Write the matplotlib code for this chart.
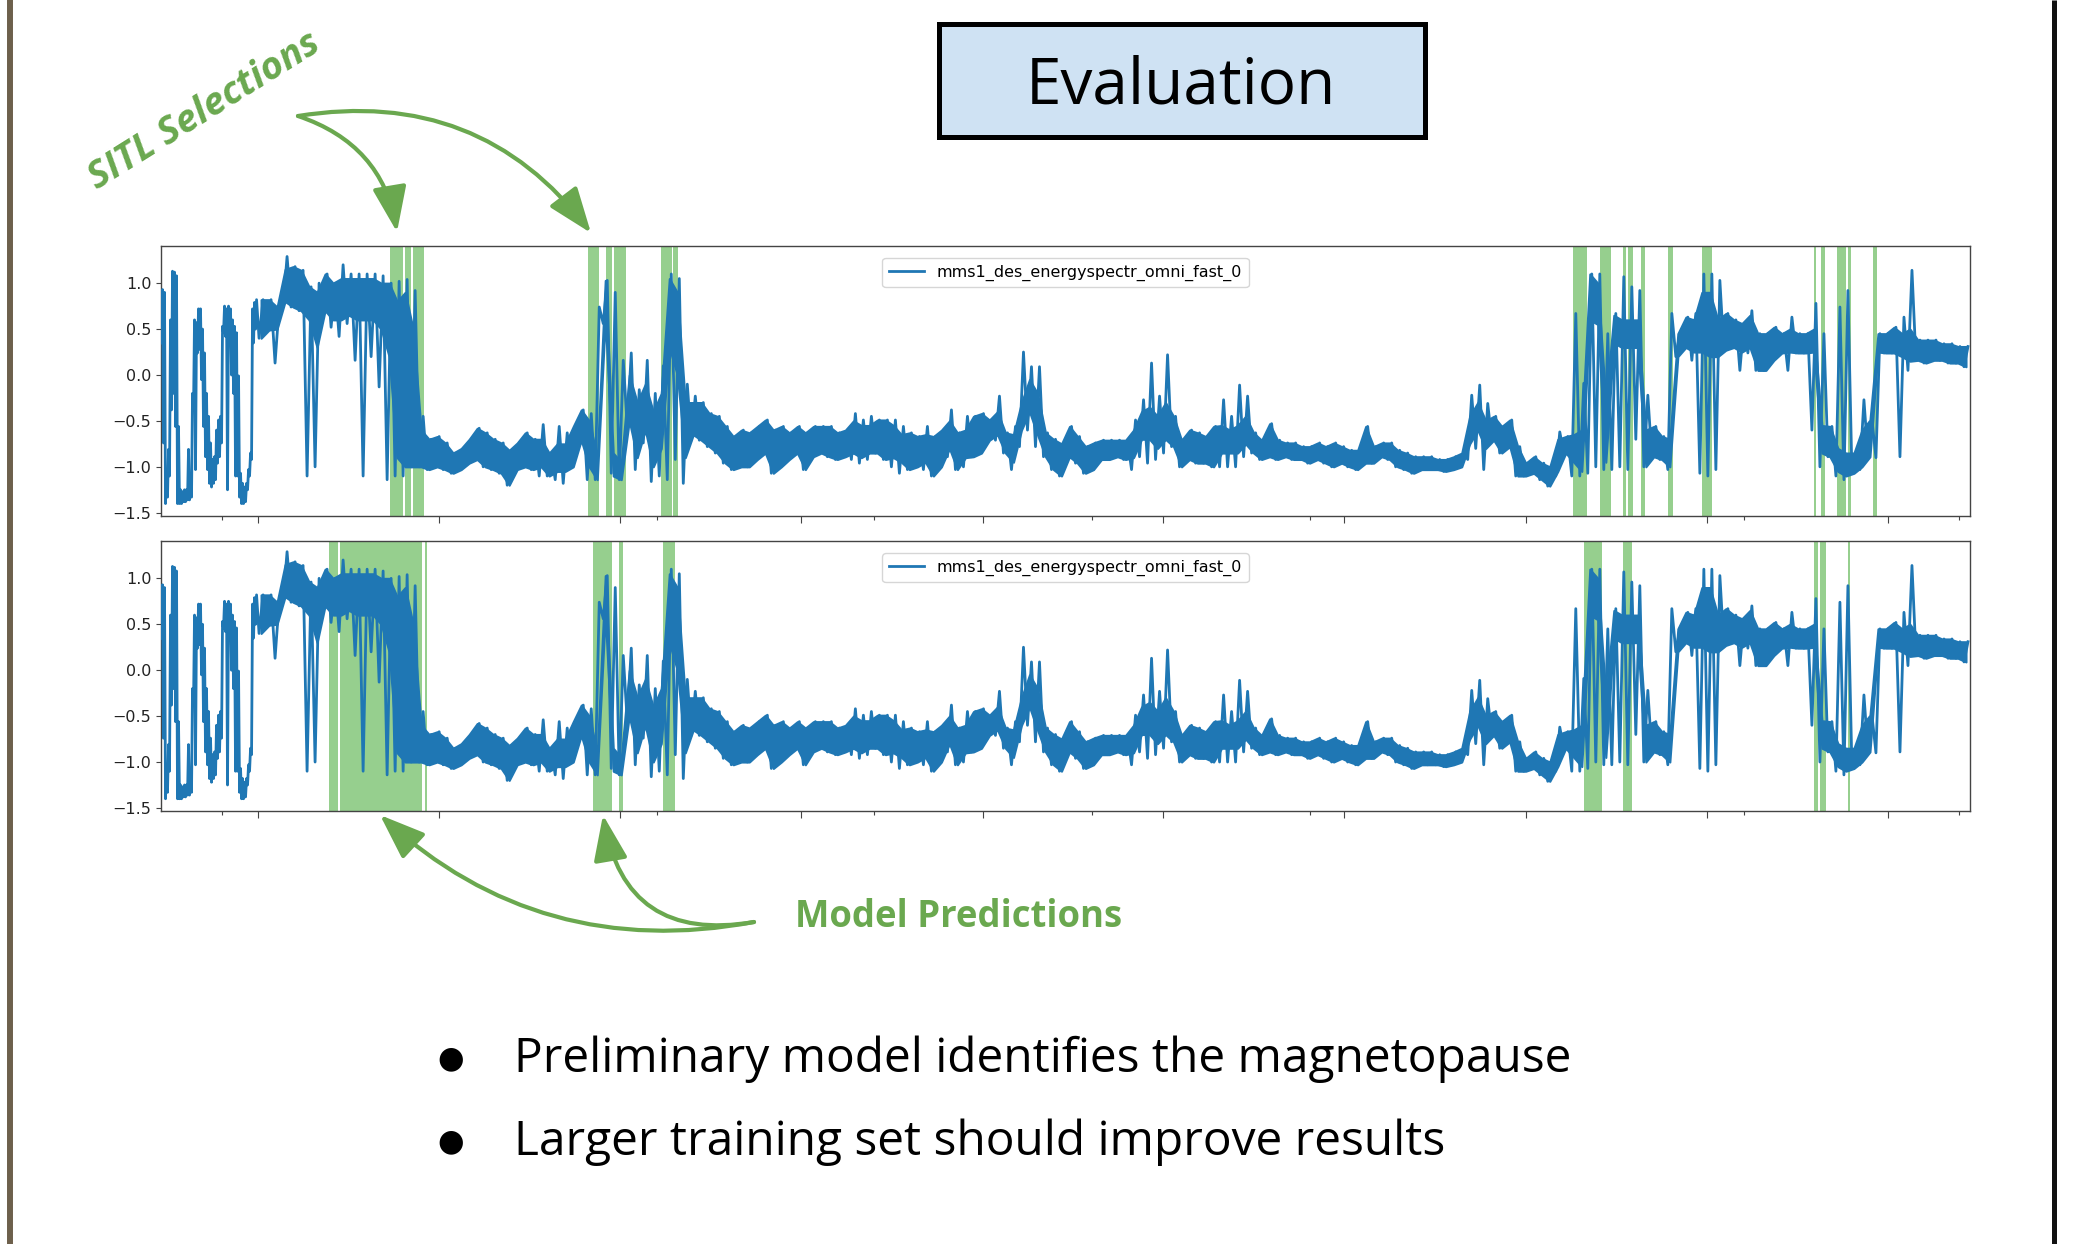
import numpy as np
import matplotlib
matplotlib.use("Agg")
import matplotlib.pyplot as plt
from matplotlib.patches import FancyArrowPatch, Rectangle, ArrowStyle

# first 96 samples: 2-sample bins (fast switching part)
fine_lo = [0.35, -0.74, -1.40, -1.33, -1.1, -0.38, -0.2, -0.56, -1.40, -1.40,
           -1.40, -1.38, -1.38, -1.36, -1.36, -1.33, -0.38, -1.03, 0.24, 0.28,
           -0.05, -0.56, -0.89, -1.03, -1.18, -1.22, -1.18, -1.14, -0.96, -0.89,
           -0.74, 0.46, 0.42, -1.25, 0.35, 0.0, -0.2, -1.1, -1.1, -1.33,
           -1.40, -1.40, -1.38, -1.25, -1.1, -0.92, 0.35, 0.5]
fine_hi = [0.93, 0.9, -1.03, -0.81, 0.6, 1.13, 1.12, 1.08, -0.56, -1.25,
           -1.27, -1.25, -1.25, -0.81, -1.1, -0.2, 0.6, 0.57, 0.72, 0.72,
           0.5, 0.24, -0.2, -0.45, -0.74, -0.92, -0.89, -0.6, -0.49, -0.45,
           0.53, 0.75, 0.72, 0.75, 0.72, 0.6, 0.53, 0.46, -0.01, -1.07,
           -1.18, -1.22, -1.18, -1.03, -0.85, 0.72, 0.79, 0.82]

# from sample 96 on: 8-sample bins (bin k starts at sample 8k, k = 12, 13, ...)
lo = [0.4, 0.49, 0.13, 0.74, 0.74, 0.7, -1.1, -1.0,
      0.7, 0.52, 0.42, 0.56, 0.16, -1.1, 0.2, -0.13, -1.14, -1.1,
      -1.1, -1.0, -1.0, -1.03, -1.0, -1.03, -1.07, -1.03, -0.96, -0.92,
      -1.0, -1.03, -1.07, -1.2, -1.03, -1.0, -1.03, -1.1, -1.1, -1.14,
      -1.18, -1.0, -0.71, -1.14, -1.14, 0.56, -1.07, -1.14, -0.56, -1.03,
      -0.74, -1.16, -1.1, -1.14, -0.92, -1.18, -0.71, -0.71, -0.78, -0.85,
      -0.96, -1.03, -1.0, -1.0, -0.92, -0.85, -1.07, -1.0, -0.92, -0.85,
      -1.03, -0.89, -0.85, -0.89, -0.92, -0.89, -0.92, -0.96, -0.92, -0.85,
      -0.92, -1.0, -1.07, -1.03, -1.0, -1.03, -1.1, -1.0, -0.89, -1.03,
      -1.0, -0.89, -0.85, -0.71, -0.71, -0.85, -1.03, -0.78, -0.6, -0.78,
      -0.89, -1.03, -1.1, -0.89, -0.96, -1.07, -1.03, -0.92, -0.92, -0.89,
      -0.92, -1.03, -0.89, -0.96, -0.92, -0.85, -0.78, -1.0, -0.92, -0.96,
      -0.96, -1.0, -1.0, -1.0, -1.0, -0.89, -0.85, -0.92, -0.89, -0.92,
      -0.89, -0.92, -0.92, -0.96, -0.92, -0.96, -1.0, -0.96, -1.0, -1.03,
      -0.96, -0.96, -0.89, -0.92, -1.0, -1.03, -1.07, -1.03, -1.03, -1.03,
      -1.05, -1.03, -1.0, -0.92, -0.8, -1.03, -0.71, -0.85, -0.78, -1.1,
      -1.1, -1.07, -1.14, -1.21, -1.1, -0.85, -1.1, -1.1, -1.07, -1.0,
      -1.03, -1.03, -1.0, -1.03, -0.7, -1.0, -0.89, -0.92, -1.03, 0.2,
      0.3, 0.16, -1.07, -1.1, -1.03, 0.27, 0.3, 0.05, 0.24, 0.05,
      0.05, 0.16, 0.24, 0.05, 0.24, 0.24, -0.6, -1.0, -0.89, -1.1,
      -1.14, -1.07, -1.03, -0.89, -0.9, 0.24, 0.24, -0.89, 0.05, 0.16,
      0.13, 0.16, 0.16, 0.13, 0.13, 0.09]
hi = [0.82, 0.82, 0.74, 1.29, 1.18, 1.14, 0.96, 1.0,
      1.1, 1.0, 1.2, 1.1, 1.1, 1.1, 1.1, 1.08, 1.0, 1.02,
      1.04, 0.92, -0.45, -0.7, -0.67, -0.74, -0.85, -0.8, -0.7, -0.58,
      -0.63, -0.7, -0.74, -0.82, -0.74, -0.63, -0.7, -0.54, -0.85, -0.56,
      -0.63, -0.56, -0.38, -0.42, 0.74, 1.03, 0.9, 0.16, 0.24, -0.16,
      0.16, -0.2, 0.1, 1.1, 1.05, -0.1, -0.23, -0.3, -0.42, -0.45,
      -0.56, -0.67, -0.6, -0.63, -0.56, -0.49, -0.6, -0.56, -0.63, -0.56,
      -0.63, -0.56, -0.56, -0.56, -0.63, -0.6, -0.42, -0.49, -0.45, -0.49,
      -0.49, -0.49, -0.56, -0.63, -0.67, -0.56, -0.67, -0.6, -0.38, -0.63,
      -0.45, -0.45, -0.42, -0.49, -0.23, -0.63, -0.56, 0.25, 0.09, 0.09,
      -0.63, -0.7, -0.75, -0.56, -0.67, -0.78, -0.74, -0.71, -0.71, -0.71,
      -0.71, -0.49, -0.27, 0.13, -0.23, 0.22, -0.45, -0.71, -0.6, -0.63,
      -0.67, -0.56, -0.27, -0.45, -0.11, -0.23, -0.63, -0.71, -0.53, -0.71,
      -0.74, -0.74, -0.78, -0.78, -0.74, -0.78, -0.74, -0.78, -0.82, -0.82,
      -0.56, -0.78, -0.74, -0.74, -0.82, -0.85, -0.89, -0.89, -0.89, -0.92,
      -0.92, -0.89, -0.85, -0.22, -0.11, -0.31, -0.45, -0.56, -0.49, -0.78,
      -0.96, -0.89, -0.96, -1.0, -0.62, -0.67, 0.67, -0.09, 1.1, 1.1,
      0.45, 0.67, 1.07, 0.96, 0.92, -0.22, -0.56, -0.67, 0.67, 0.45,
      0.63, 0.67, 1.1, 1.1, 1.03, 0.67, 0.6, 0.56, 0.7, 0.45,
      0.45, 0.52, 0.45, 0.63, 0.45, 0.45, 0.78, 0.45, -0.56, 0.74,
      0.92, -0.85, -0.27, -0.49, 0.45, 0.45, 0.52, 0.63, 1.14, 0.38,
      0.38, 0.38, 0.34, 0.34, 0.31, 0.31]

# 8-sample bins with spikes / jumps: the level band where the signal mostly sits
dwell_bins = [14, 15, 18, 19, 21, 22, 23,
              24, 25, 26, 27, 28, 29, 30, 31, 32, 47, 49, 50, 53, 54, 55, 56,
              57, 58, 59, 60, 61, 62, 63, 64, 65, 66, 86, 87, 88, 91, 92, 95,
              98, 100, 104, 106, 107, 108, 109, 121, 122, 123, 124, 125, 132,
              133, 134, 135, 163, 164, 165, 174, 176, 177, 178, 179, 180, 181,
              182, 183, 184, 185, 188, 191, 192, 193, 194, 197, 198, 203, 206,
              207, 209, 210, 212, 214, 217, 218]
dwell_lo = [0.5, 0.8, 0.6, 0.3, 0.6, 0.6, 0.65, 0.6, 0.6, 0.6, 0.5,
            0.2, -0.9, -1.0, -1.0, -1.0, -1.0, -1.05, -1.05, -1.0, -1.14,
            0.6, -1.1, -1.14, -0.5, -0.9, -0.6, -1.0, -0.8, 0.3, 0.0, -0.9,
            -0.65, -0.85, -0.9, -0.85, -0.9, -0.95, -0.95, -0.8, -0.9, -0.65,
            -0.95, -0.6, -0.4, -0.65, -0.9, -0.7, -0.7, -0.8, -0.7, -0.85,
            -0.85, -0.85, -0.75, -0.75, -0.6, -0.8, -1.05, -0.95, -1.05, 0.6,
            0.55, -0.95, 0.35, 0.3, 0.3, 0.3, -1.0, -1.0, 0.25, 0.25, 0.2,
            0.2, 0.25, 0.3, 0.25, 0.25, -0.85, -1.05, -1.1, -1.0, 0.25, 0.2,
            0.15]
dwell_hi = [0.74, 1.15, 0.96, 0.9, 1.0, 1.05, 1.05, 1.05, 1.05, 1.05,
            1.0, 1.0, 0.8, 0.9, 0.5, -0.6, -0.7, -0.75, -0.75, -0.5, -0.9,
            1.03, -0.85, -0.95, 0.0, -0.3, -0.1, -0.4, -0.2, 1.05, 0.9, -0.3,
            -0.3, -0.5, -0.55, -0.55, -0.55, -0.65, -0.65, -0.5, -0.6, -0.4,
            -0.65, -0.3, -0.05, -0.2, -0.6, -0.4, -0.35, -0.45, -0.3, -0.55,
            -0.6, -0.55, -0.45, -0.45, -0.3, -0.5, -0.7, -0.65, -0.6, 1.1,
            1.0, -0.3, 0.65, 0.6, 0.6, 0.6, -0.6, -0.7, 0.6, 0.9, 0.9, 0.6,
            0.56, 0.65, 0.5, 0.5, -0.55, -0.8, -0.85, -0.6, 0.45, 0.45, 0.5]
series_name = "mms1_des_energyspectr_omni_fast_0"

# selected intervals (sample index start, end)
sitl_spans = [(229, 242), (244, 250), (252, 263), (427, 438), (445, 451),
              (453, 465), (500, 511), (512, 517), (1411, 1425), (1438, 1449),
              (1461, 1464), (1466, 1471), (1479, 1483), (1506, 1511),
              (1540, 1550), (1652, 1654), (1659, 1663), (1675, 1684),
              (1686, 1689), (1711, 1715)]
model_spans = [(168, 177), (179, 261), (264, 266), (432, 451), (458, 462),
               (502, 514), (1422, 1440), (1461, 1470), (1652, 1656),
               (1658, 1664), (1686, 1688)]

major_ticks = [97, 278, 459, 640, 822, 1001, 1182, 1364, 1545, 1726]
minor_ticks = [61, 496, 713, 930, 1148, 1582, 1797]
y_ticks = [-1.5, -1.0, -0.5, 0.0, 0.5, 1.0]

bullets = ["Preliminary model identifies the magnetopause",
           "Larger training set should improve results"]

BLUE = "#1f77b4"
SPAN = "#96cf8e"
GREEN = "#6aa84f"
W, H = 2074, 1244

# zig-zag line through the low / high of every bin
fine_lo = np.array(fine_lo)
fine_hi = np.array(fine_hi)
lo = np.array(lo)
hi = np.array(hi)
nf = len(fine_lo)
k = np.arange(len(lo)) + nf * 2 // 8

xs = np.empty(2 * (nf + len(lo)))
ys = np.empty_like(xs)
xs[0:2 * nf:2] = np.arange(nf) * 2 + 0.5
xs[1:2 * nf:2] = np.arange(nf) * 2 + 1.5
ys[0:2 * nf:2] = fine_lo
ys[1:2 * nf:2] = fine_hi
xs[2 * nf::2] = k * 8 + 2
xs[2 * nf + 1::2] = k * 8 + 6
ys[2 * nf::2] = lo
ys[2 * nf + 1::2] = hi

band_lo = lo.copy()
band_hi = hi.copy()
idx = np.array(dwell_bins) - k[0]
band_lo[idx] = dwell_lo
band_hi[idx] = dwell_hi
xc = k * 8 + 4

fig = plt.figure(figsize=(W / 100, H / 100), dpi=100)
fig.patch.set_facecolor("white")


def panel(top_px, spans):
    ax = fig.add_axes([161 / W, 1 - (top_px + 270) / H, 1809 / W, 270 / H])
    for a, b in spans:
        ax.axvspan(a, b, color=SPAN, lw=0, zorder=1)
    ax.fill_between(xc, band_lo, band_hi, color=BLUE, lw=1.5, zorder=2)
    ax.plot(xs, ys, color=BLUE, lw=2, label=series_name, zorder=3)
    ax.set_xlim(0, 1808)
    ax.set_ylim(-1.53, 1.41)
    ax.set_yticks(y_ticks)
    ax.set_xticks(major_ticks)
    ax.set_xticks(minor_ticks, minor=True)
    ax.set_xticklabels([])
    ax.tick_params(axis="x", which="major", length=4.8, width=0.8,
                   color="#444444")
    ax.tick_params(axis="x", which="minor", length=3, width=0.8,
                   color="#444444")
    ax.tick_params(axis="y", labelsize=11.5, length=3.5, color="#444444",
                   labelcolor="#222222")
    for s in ax.spines.values():
        s.set_color("#444444")
        s.set_linewidth(1.0)
    ax.legend(loc="upper center", fontsize=11.5, handlelength=2.2,
              borderaxespad=0.8)
    return ax


panel(245.5, sitl_spans)
panel(540.7, model_spans)

# slide layer in pixel coordinates
ov = fig.add_axes([0, 0, 1, 1], zorder=-1)
ov.set_xlim(0, W)
ov.set_ylim(H, 0)
ov.axis("off")

ov.plot([10, 10], [0, H], color="#6d604c", lw=4.3, solid_capstyle="butt")
ov.plot([2054, 2054], [0, H], color="#111111", lw=3.6, solid_capstyle="butt")

ov.add_patch(Rectangle((938.5, 23.5), 486, 113, facecolor="#cfe2f3",
                       edgecolor="black", lw=3.6))
ov.text(1181, 103, "Evaluation", fontsize=46, family="Open Sans",
        ha="center", va="baseline", color="black")

ov.text(204, 111, "SITL Selections", fontsize=27.5, family="Open Sans",
        fontweight="bold", style="italic", color=GREEN, rotation=32,
        rotation_mode="anchor", ha="center", va="center")
ov.text(795, 927, "Model Predictions", fontsize=26.3, family="Open Sans",
        fontweight="bold", color=GREEN, ha="left", va="baseline")

head = ArrowStyle("-|>", head_length=2.8, head_width=1.05)
arrows = [((298, 116), (397, 232), -0.3),
          ((298, 116), (591, 233), -0.3),
          ((754, 922), (380, 815), -0.25),
          ((754, 922), (603, 815), -0.5)]
for a, b, rad in arrows:
    ov.add_patch(FancyArrowPatch(a, b, connectionstyle=f"arc3,rad={rad}",
                                 arrowstyle=head, mutation_scale=10,
                                 color=GREEN, lw=3, shrinkA=0, shrinkB=0))

for i, line in enumerate(bullets):
    base = 1072 + i * 83
    ov.text(451, base - 13, "\u25cf", fontsize=22, family="DejaVu Sans",
            ha="center", va="center", color="black")
    ov.text(514, base, line, fontsize=34.5, family="Open Sans",
            ha="left", va="baseline", color="black")

fig.savefig("out.png", dpi=100)
